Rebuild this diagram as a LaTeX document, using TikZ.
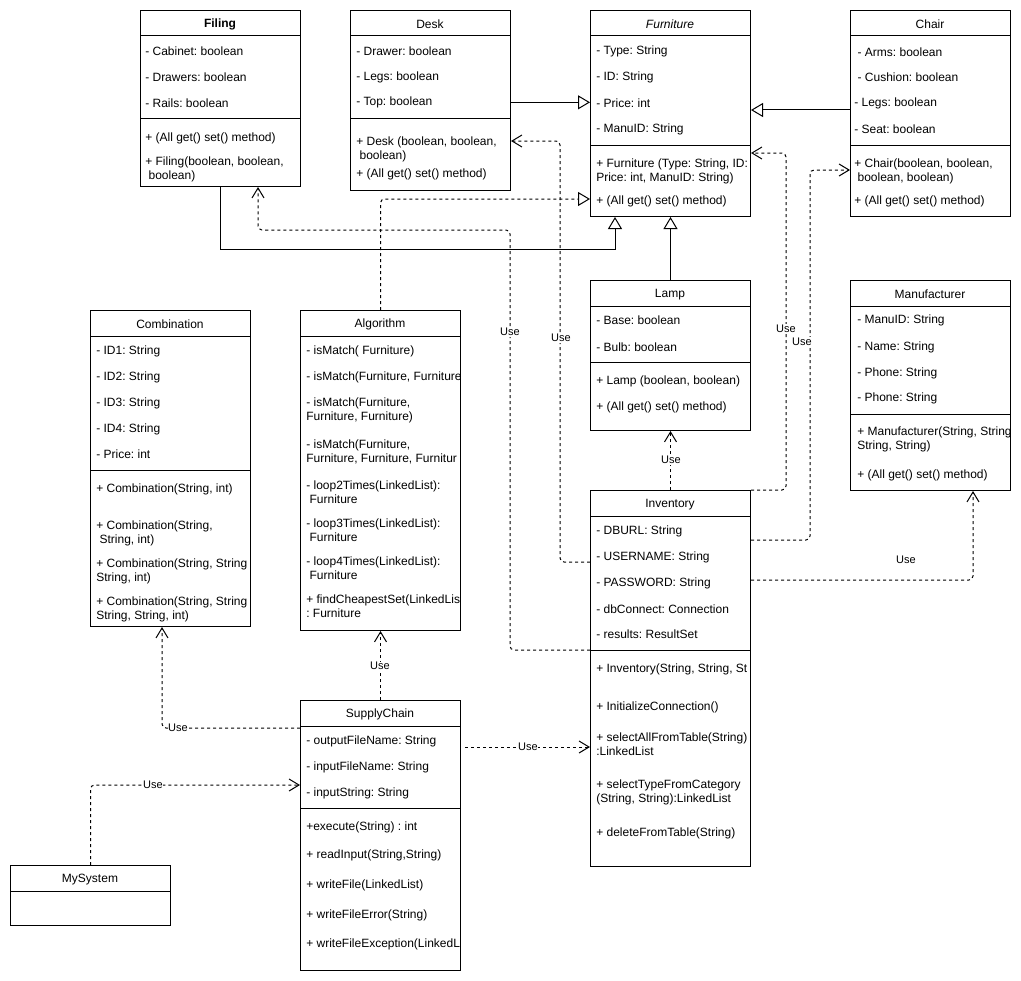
\documentclass[tikz,border=0pt]{standalone}
\usepackage{fontspec}
\setmainfont{Liberation Sans}
\usetikzlibrary{arrows.meta}
\frenchspacing

\begin{document}
\begin{tikzpicture}[x=0.75pt, y=-0.75pt,
  classbox/.style={draw, rectangle, inner sep=0pt, minimum width=120pt, anchor=north west, line width=0.75pt},
  head/.style={inner sep=0pt, yshift=-1pt, font=\fontsize{9}{10.5}\selectfont},
  attr/.style={inner sep=0pt, anchor=west, align=left, yshift=-1pt, font=\fontsize{9}{10.5}\selectfont},
  sep/.style={line width=0.75pt},
  gen/.style={line width=0.75pt, -{Triangle[open, length=9pt, width=10.5pt]}},
  real/.style={gen, dash pattern=on 2.25pt off 2.25pt, rounded corners=3pt},
  use/.style={line width=0.75pt, dash pattern=on 2.25pt off 2.25pt, rounded corners=3pt, -{Straight Barb[length=7.5pt, width=9pt]}},
  uselbl/.style={fill=white, inner sep=0.5pt, font=\fontsize{8.25}{9}\selectfont}]

  \path[fill=white] (0,0) rectangle (1021,981);
  \useasboundingbox (0,0) rectangle (1021,981);

  \node[classbox, minimum height=132pt] (filing) at (140,10) {};
  \draw[sep] (140,36) -- (300,36);
  \draw[sep] (140,118) -- (300,118);
  \node[head] (filingT) at (220,23) {\textbf{Filing}};
  \node[attr] (fil1) at (145,50) {- Cabinet: boolean};
  \node[attr] (fil2) at (145,76) {- Drawers: boolean};
  \node[attr] (fil3) at (145,102) {- Rails: boolean};
  \node[attr] (fil4) at (145,137) {+ (All get() set() method)};
  \node[attr] (fil5) at (145,168.5) {+ Filing(boolean, boolean,\\\ boolean)};

  \node[classbox, minimum height=135pt] (desk) at (350,10) {};
  \draw[sep] (350,36) -- (510,36);
  \draw[sep] (350,118) -- (510,118);
  \node[head] (deskT) at (430,23) {Desk};
  \node[attr] (dsk1) at (356,50) {- Drawer: boolean};
  \node[attr] (dsk2) at (356,76) {- Legs: boolean};
  \node[attr] (dsk3) at (356,101) {- Top: boolean};
  \node[attr] (dsk4) at (356,148.5) {+ Desk (boolean, boolean,\\\ boolean)};
  \node[attr] (dsk5) at (356,173) {+ (All get() set() method)};

  \node[classbox, minimum height=154.5pt] (furn) at (590,10) {};
  \draw[sep] (590,36) -- (750,36);
  \draw[sep] (590,145) -- (750,145);
  \node[head] (furnT) at (670,23) {\textit{Furniture}};
  \begin{scope}
    \clip (furn.north west) rectangle (furn.south east);
    \node[attr] (frn1) at (596,50) {- Type: String};
    \node[attr] (frn2) at (596,76) {- ID: String};
    \node[attr] (frn3) at (596,102) {- Price: int};
    \node[attr] (frn4) at (596,128) {- ManuID: String};
    \node[attr] (frn5) at (596,170) {+ Furniture (Type: String, ID:\\Price: int, ManuID: String)};
    \node[attr] (frn6) at (596,200) {+ (All get() set() method)};
  \end{scope}

  \node[classbox, minimum height=154.5pt] (chair) at (850,10) {};
  \draw[sep] (850,36) -- (1010,36);
  \draw[sep] (850,145) -- (1010,145);
  \node[head] (chairT) at (930,23) {Chair};
  \node[attr] (chr1) at (854,51) {\ - Arms: boolean};
  \node[attr] (chr2) at (854,76) {\ - Cushion: boolean};
  \node[attr] (chr3) at (854,102) {- Legs: boolean};
  \node[attr] (chr4) at (854,128) {- Seat: boolean};
  \node[attr] (chr5) at (854,170) {+ Chair(boolean, boolean,\\\ boolean, boolean)};
  \node[attr] (chr6) at (854,200) {+ (All get() set() method)};

  \node[classbox, minimum height=112.5pt] (lamp) at (590,280) {};
  \draw[sep] (590,306) -- (750,306);
  \draw[sep] (590,362) -- (750,362);
  \node[head] (lampT) at (670,293) {Lamp};
  \node[attr] (lmp1) at (596,319) {- Base: boolean};
  \node[attr] (lmp2) at (596,346) {- Bulb: boolean};
  \node[attr] (lmp3) at (596,380) {+ Lamp (boolean, boolean)};
  \node[attr] (lmp4) at (596,406) {+ (All get() set() method)};

  \node[classbox, minimum height=157.5pt] (manu) at (850,280) {};
  \draw[sep] (850,306) -- (1010,306);
  \draw[sep] (850,414) -- (1010,414);
  \node[head] (manuT) at (930,293) {Manufacturer};
  \begin{scope}
    \clip (manu.north west) rectangle (manu.south east);
    \node[attr] (mnf1) at (857,319) {- ManuID: String};
    \node[attr] (mnf2) at (857,346) {- Name: String};
    \node[attr] (mnf3) at (857,372) {- Phone: String};
    \node[attr] (mnf4) at (857,397) {- Phone: String};
    \node[attr] (mnf5) at (857,438.5) {+ Manufacturer(String, String\\String, String)};
    \node[attr] (mnf6) at (857,474) {+ (All get() set() method)};
  \end{scope}

  \node[classbox, minimum height=237pt] (comb) at (90,310) {};
  \draw[sep] (90,336) -- (250,336);
  \draw[sep] (90,470.5) -- (250,470.5);
  \node[head] (combT) at (170,323) {Combination};
  \begin{scope}
    \clip (comb.north west) rectangle (comb.south east);
    \node[attr] (cmb1) at (96,350) {- ID1: String};
    \node[attr] (cmb2) at (96,376) {- ID2: String};
    \node[attr] (cmb3) at (96,402) {- ID3: String};
    \node[attr] (cmb4) at (96,428) {- ID4: String};
    \node[attr] (cmb5) at (96,453) {- Price: int};
    \node[attr] (cmb6) at (96,488) {+ Combination(String, int)};
    \node[attr] (cmb7) at (96,532.5) {+ Combination(String,\\\ String, int)};
    \node[attr] (cmb8) at (96,570) {+ Combination(String, String\\String, int)};
    \node[attr] (cmb9) at (96,608.5) {+ Combination(String, String\\String, String, int)};
  \end{scope}

  \node[classbox, minimum height=240pt] (algo) at (300,310) {};
  \draw[sep] (300,336) -- (460,336);
  \node[head] (algoT) at (380,323) {Algorithm};
  \begin{scope}
    \clip (algo.north west) rectangle (algo.south east);
    \node[attr] (alg1) at (306,350) {- isMatch( Furniture)};
    \node[attr] (alg2) at (306,376) {- isMatch(Furniture, Furniture};
    \node[attr] (alg3) at (306,409) {- isMatch(Furniture,\\Furniture, Furniture)};
    \node[attr] (alg4) at (306,450.5) {- isMatch(Furniture,\\Furniture, Furniture, Furnitur};
    \node[attr] (alg5) at (306,490.5) {- loop2Times(LinkedList):\\\ Furniture};
    \node[attr] (alg6) at (306,528.5) {- loop3Times(LinkedList):\\\ Furniture};
    \node[attr] (alg7) at (306,566.5) {- loop4Times(LinkedList):\\\ Furniture};
    \node[attr] (alg8) at (306,604.5) {+ findCheapestSet(LinkedLis\\: Furniture};
  \end{scope}

  \node[classbox, minimum height=282pt] (inv) at (590,490) {};
  \draw[sep] (590,516) -- (750,516);
  \draw[sep] (590,650) -- (750,650);
  \node[head] (invT) at (670,503) {Inventory};
  \begin{scope}
    \clip (inv.north west) rectangle (inv.south east);
    \node[attr] (inv1) at (596,530) {- DBURL: String};
    \node[attr] (inv2) at (596,556) {- USERNAME: String};
    \node[attr] (inv3) at (596,582) {- PASSWORD: String};
    \node[attr] (inv4) at (596,608) {- dbConnect: Connection};
    \node[attr] (inv5) at (596,633) {- results: ResultSet};
    \node[attr] (inv6) at (596,668) {+ Inventory(String, String, St};
    \node[attr] (inv7) at (596,706) {+ InitializeConnection()};
    \node[attr] (inv8) at (596,743) {+ selectAllFromTable(String)\\:LinkedList};
    \node[attr] (inv9) at (596,791) {+ selectTypeFromCategory\\(String, String):LinkedList};
    \node[attr] (inv10) at (596,832) {+ deleteFromTable(String)};
  \end{scope}

  \node[classbox, minimum height=202.5pt] (supply) at (300,700) {};
  \draw[sep] (300,726.5) -- (460,726.5);
  \draw[sep] (300,808) -- (460,808);
  \node[head] (supplyT) at (380,713) {SupplyChain};
  \begin{scope}
    \clip (supply.north west) rectangle (supply.south east);
    \node[attr] (sup1) at (306,740) {- outputFileName: String};
    \node[attr] (sup2) at (306,766) {- inputFileName: String};
    \node[attr] (sup3) at (306,792) {- inputString: String};
    \node[attr] (sup4) at (306,826) {+execute(String) : int};
    \node[attr] (sup5) at (306,854) {+ readInput(String,String)};
    \node[attr] (sup6) at (306,884) {+ writeFile(LinkedList)};
    \node[attr] (sup7) at (306,914) {+ writeFileError(String)};
    \node[attr] (sup8) at (306,943) {+ writeFileException(LinkedL};
  \end{scope}

  \node[classbox, minimum height=45pt] (mysys) at (10,865) {};
  \draw[sep] (10,891) -- (170,891);
  \node[head] (mysysT) at (90,878) {MySystem};

  \coordinate (chrIn) at (850,110);
  \coordinate (inh) at (615,249);
  \coordinate (realz) at (380,199);
  \coordinate (filA) at (510,650);
  \coordinate (filB) at (258,230);
  \coordinate (dskA) at (560,562);
  \coordinate (dskB) at (560,141);
  \coordinate (frnB) at (786,153);
  \coordinate (chrA) at (810,540);
  \coordinate (chrB) at (810,170);
  \coordinate (mnfA) at (973,580);
  \coordinate (cmbA) at (162,728);
  \coordinate (invA) at (465,747);
  \coordinate (supA) at (297,785);

  \draw[gen] (dsk3.west -| desk.east) -- (dsk3.west -| furn.west);
  \draw[gen] (chair.west |- chrIn) -- (furn.east |- chrIn);
  \draw[gen] (filing.south) |- (inh) -- (inh |- furn.south);
  \draw[gen] (lamp.north) -- (furn.south);
  \draw[real] (algo.north) |- (furn.west |- realz);

  \draw[use] (inv.west |- filA) -- (filA) |- (filB) -- (filB |- filing.south);
  \draw[use] (inv.west |- dskA) -| (dskB) -- (desk.east |- dskB);
  \draw[use] (inv.north east) -| (frnB) -- (furn.east |- frnB);
  \draw[use] (inv.east |- chrA) -- (chrA) |- (chair.west |- chrB);
  \draw[use] (inv.north) -- (lamp.south);
  \draw[use] (inv.east |- mnfA) -| (manu.south -| mnfA);
  \draw[use] (supply.north) -- (algo.south);
  \draw[use] (supply.west |- cmbA) -| (comb.south -| cmbA);
  \draw[use] (invA) -- (inv.west |- invA);
  \draw[use] (mysys.north) |- (supply.west |- supA);

  \node[uselbl] (useFil) at (510,332) {Use};
  \node[uselbl] (useDsk) at (561,338) {Use};
  \node[uselbl] (useFrn) at (786,329) {Use};
  \node[uselbl] (useChr) at (802,342) {Use};
  \node[uselbl] (useLmp) at (671,460) {Use};
  \node[uselbl] (useMnf) at (906,560) {Use};
  \node[uselbl] (useAlg) at (380,666) {Use};
  \node[uselbl] (useCmb) at (178,728) {Use};
  \node[uselbl] (useInv) at (528,747) {Use};
  \node[uselbl] (useSup) at (153,785) {Use};

\end{tikzpicture}
\end{document}
